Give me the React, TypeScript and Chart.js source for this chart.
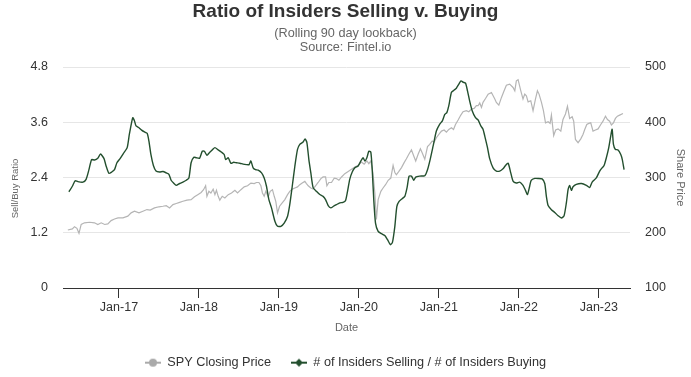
import React, { useEffect, useRef } from "react";
import { Chart, registerables } from "chart.js";

Chart.register(...registerables);

const TITLE = "Ratio of Insiders Selling v. Buying";
const SUBTITLE = ["(Rolling 90 day lookback)", "Source: Fintel.io"];
const RATIO_LABEL = "# of Insiders Selling / # of Insiders Buying";
const SPY_LABEL = "SPY Closing Price";

const xTickYears = [2017, 2018, 2019, 2020, 2021, 2022, 2023];
const leftTickValues = [0, 1.2, 2.4, 3.6, 4.8];
const rightTickValues = [100, 200, 300, 400, 500];

const ratioDates = [
  "2016-05-16","2016-06-01","2016-06-14","2016-06-26","2016-07-19","2016-08-03","2016-08-16","2016-08-28","2016-09-11","2016-09-26",
  "2016-10-08","2016-10-24","2016-11-03","2016-11-16","2016-11-29","2016-12-11","2016-12-22","2017-01-06","2017-01-21","2017-02-08",
  "2017-02-18","2017-03-03","2017-03-11","2017-03-18","2017-04-01","2017-04-13","2017-04-26","2017-05-08","2017-05-16","2017-05-25",
  "2017-06-06","2017-06-18","2017-07-04","2017-07-19","2017-08-04","2017-08-16","2017-08-26","2017-09-07","2017-09-19","2017-10-04",
  "2017-10-19","2017-11-04","2017-11-16","2017-11-26","2017-12-08","2017-12-19","2018-01-04","2018-01-16","2018-01-26","2018-02-07",
  "2018-02-20","2018-03-01","2018-03-13","2018-03-28","2018-04-13","2018-04-25","2018-05-01","2018-05-13","2018-05-25","2018-06-07",
  "2018-06-20","2018-07-05","2018-07-20","2018-08-05","2018-08-17","2018-08-25","2018-09-05","2018-09-16","2018-09-28","2018-10-13",
  "2018-10-25","2018-11-05","2018-11-16","2018-11-28","2018-12-13","2018-12-25","2019-01-10","2019-01-25","2019-02-10","2019-02-20",
  "2019-03-01","2019-03-13","2019-03-25","2019-04-05","2019-04-20","2019-04-29","2019-05-07","2019-05-16","2019-05-25","2019-06-05",
  "2019-06-20","2019-07-05","2019-07-20","2019-08-01","2019-08-13","2019-08-25","2019-09-05","2019-09-20","2019-10-05","2019-10-20",
  "2019-11-01","2019-11-10","2019-11-20","2019-12-01","2019-12-13","2019-12-28","2020-01-10","2020-01-20","2020-01-28","2020-02-07",
  "2020-02-16","2020-02-25","2020-03-01","2020-03-08","2020-03-16","2020-03-28","2020-04-13","2020-04-28","2020-05-10","2020-05-23",
  "2020-06-02","2020-06-13","2020-06-22","2020-07-02","2020-07-16","2020-07-28","2020-08-08","2020-08-17","2020-08-28","2020-09-08",
  "2020-09-17","2020-10-05","2020-10-28","2020-11-10","2020-11-22","2020-12-05","2020-12-20","2021-01-05","2021-01-17","2021-01-28",
  "2021-02-07","2021-02-16","2021-02-28","2021-03-10","2021-03-20","2021-04-01","2021-04-11","2021-04-20","2021-05-01","2021-05-10",
  "2021-05-20","2021-06-01","2021-06-16","2021-06-28","2021-07-10","2021-07-20","2021-07-28","2021-08-10","2021-08-20","2021-09-05",
  "2021-09-20","2021-10-05","2021-10-20","2021-11-01","2021-11-13","2021-11-25","2021-12-05","2021-12-20","2022-01-05","2022-01-20",
  "2022-02-01","2022-02-10","2022-02-20","2022-02-27","2022-03-13","2022-03-28","2022-04-16","2022-04-28","2022-05-05","2022-05-13",
  "2022-05-28","2022-06-13","2022-06-28","2022-07-13","2022-07-25","2022-08-05","2022-08-13","2022-08-20","2022-08-28","2022-09-05",
  "2022-09-20","2022-10-13","2022-11-05","2022-11-20","2022-12-01","2022-12-20","2023-01-05","2023-01-16","2023-01-25","2023-02-05",
  "2023-02-16","2023-02-25","2023-03-01","2023-03-07","2023-03-16","2023-03-28","2023-04-10","2023-04-17","2023-04-25"
];
const ratioValues = [
  2.09,2.21,2.33,2.31,2.30,2.36,2.57,2.79,2.78,2.82,
  2.91,2.81,2.65,2.49,2.52,2.57,2.72,2.81,2.92,3.05,
  3.34,3.70,3.63,3.52,3.48,3.43,3.39,3.36,3.19,2.90,
  2.66,2.54,2.52,2.53,2.50,2.47,2.34,2.28,2.23,2.27,
  2.30,2.34,2.39,2.72,2.84,2.83,2.82,2.97,2.97,2.88,
  2.95,3.00,3.05,3.00,2.95,2.90,2.79,2.83,2.71,2.73,
  2.72,2.71,2.69,2.68,2.68,2.76,2.61,2.57,2.56,2.50,
  2.39,2.21,1.92,1.74,1.45,1.34,1.34,1.41,1.56,1.81,
  2.21,2.65,3.01,3.12,3.17,3.24,3.16,2.79,2.50,2.18,
  2.10,2.03,1.99,1.92,1.79,1.74,1.77,1.81,1.85,1.86,
  1.90,2.10,2.36,2.52,2.61,2.65,2.76,2.83,2.76,2.83,
  2.97,2.95,2.57,1.92,1.41,1.23,1.18,1.14,1.05,0.94,
  0.99,1.34,1.77,1.88,1.94,1.99,2.18,2.43,2.43,2.34,
  2.41,2.43,2.44,2.57,2.79,3.08,3.41,3.56,3.63,3.77,
  3.81,3.96,4.25,4.30,4.34,4.43,4.50,4.47,4.45,4.28,
  4.06,3.85,3.70,3.65,3.52,3.45,3.30,3.05,2.81,2.61,
  2.54,2.54,2.59,2.66,2.71,2.50,2.32,2.28,2.30,2.23,
  2.12,2.03,2.21,2.34,2.38,2.38,2.37,2.27,1.99,1.79,
  1.70,1.64,1.57,1.52,1.57,1.85,2.14,2.23,2.12,2.20,
  2.25,2.27,2.23,2.18,2.30,2.39,2.54,2.61,2.66,2.83,
  3.05,3.30,3.45,3.12,3.01,3.00,2.90,2.79,2.57
];

const spyDates = [
  "2016-05-11","2016-06-01","2016-06-11","2016-06-22","2016-07-01","2016-07-11","2016-07-26","2016-08-19","2016-09-11","2016-09-26",
  "2016-10-11","2016-10-27","2016-11-11","2016-11-26","2016-12-11","2016-12-27","2017-01-19","2017-02-11","2017-02-26","2017-03-11",
  "2017-04-01","2017-04-19","2017-05-07","2017-05-22","2017-06-11","2017-07-01","2017-07-19","2017-08-04","2017-08-19","2017-09-04",
  "2017-09-19","2017-10-04","2017-10-19","2017-11-07","2017-11-26","2017-12-11","2017-12-26","2018-01-11","2018-01-22","2018-02-01",
  "2018-02-07","2018-02-16","2018-02-25","2018-03-05","2018-03-13","2018-03-20","2018-03-28","2018-04-05","2018-04-16","2018-04-28",
  "2018-05-13","2018-05-28","2018-06-13","2018-06-25","2018-07-10","2018-07-25","2018-08-10","2018-08-25","2018-09-10","2018-09-20",
  "2018-10-01","2018-10-10","2018-10-17","2018-10-25","2018-11-02","2018-11-13","2018-11-22","2018-12-02","2018-12-10","2018-12-17",
  "2018-12-25","2019-01-04","2019-01-16","2019-01-28","2019-02-10","2019-02-20","2019-03-01","2019-03-13","2019-03-25","2019-04-05",
  "2019-04-16","2019-04-28","2019-05-05","2019-05-13","2019-05-25","2019-06-05","2019-06-16","2019-06-28","2019-07-10","2019-07-20",
  "2019-08-01","2019-08-07","2019-08-16","2019-08-28","2019-09-10","2019-09-20","2019-10-01","2019-10-13","2019-10-28","2019-11-13",
  "2019-11-28","2019-12-13","2019-12-28","2020-01-13","2020-01-25","2020-02-07","2020-02-16","2020-02-25","2020-03-04","2020-03-13",
  "2020-03-20","2020-03-28","2020-04-10","2020-04-20","2020-05-01","2020-05-13","2020-05-25","2020-06-05","2020-06-13","2020-06-20",
  "2020-07-01","2020-07-13","2020-07-25","2020-08-05","2020-08-16","2020-08-28","2020-09-08","2020-09-17","2020-09-28","2020-10-08",
  "2020-10-17","2020-10-28","2020-11-10","2020-11-20","2020-12-01","2020-12-10","2020-12-20","2021-01-01","2021-01-13","2021-01-25",
  "2021-02-05","2021-02-16","2021-02-28","2021-03-07","2021-03-16","2021-03-28","2021-04-10","2021-04-20","2021-05-05","2021-05-16",
  "2021-05-28","2021-06-10","2021-06-20","2021-06-28","2021-07-05","2021-07-13","2021-07-20","2021-08-01","2021-08-13","2021-08-28",
  "2021-09-13","2021-09-20","2021-10-01","2021-10-13","2021-10-25","2021-11-05","2021-11-20","2021-12-05","2021-12-13","2021-12-20",
  "2021-12-28","2022-01-10","2022-01-20","2022-01-28","2022-02-05","2022-02-13","2022-02-25","2022-03-05","2022-03-16","2022-03-25",
  "2022-04-02","2022-04-13","2022-04-22","2022-05-01","2022-05-13","2022-05-22","2022-05-28","2022-06-08","2022-06-17","2022-06-28",
  "2022-07-10","2022-07-20","2022-08-01","2022-08-10","2022-08-20","2022-09-01","2022-09-08","2022-09-16","2022-09-28","2022-10-10",
  "2022-10-20","2022-10-28","2022-11-07","2022-11-16","2022-11-25","2022-12-05","2022-12-16","2022-12-28","2023-01-10","2023-01-20",
  "2023-02-01","2023-02-10","2023-02-20","2023-02-28","2023-03-07","2023-03-16","2023-03-25","2023-04-05","2023-04-20"
];
const spyValues = [
  205,207,211,208,199,215,218,219,218,215,
  218,215,216,222,225,227,227,230,236,239,
  236,239,242,241,245,247,248,249,245,251,
  253,255,257,259,260,265,269,273,278,285,
  266,275,272,279,269,277,266,259,266,263,
  269,272,277,272,278,283,285,290,289,291,
  291,285,272,266,275,265,275,278,266,257,
  236,248,254,260,269,275,279,281,283,287,
  290,293,289,285,281,279,285,291,298,301,
  301,285,291,291,299,298,295,301,307,311,
  315,319,322,328,324,330,325,330,309,272,
  224,260,275,281,287,295,299,322,309,305,
  311,318,327,334,342,350,339,330,342,352,
  344,333,356,360,366,364,372,378,384,386,
  382,387,390,387,396,404,413,419,421,419,
  424,425,430,430,435,427,436,443,451,454,
  442,436,431,445,457,467,469,463,457,475,
  477,457,442,451,448,437,439,421,442,457,
  451,436,421,399,401,398,413,376,386,388,
  384,405,415,429,407,410,402,369,363,370,
  378,387,396,398,399,384,386,388,396,402,
  411,405,402,395,399,407,411,413,416
];

const X_MIN = 2016.3;
const X_MAX = 2023.39;
const FONT = "'Liberation Sans', Arial, Helvetica, sans-serif";

function toYear(d: string): number {
  const [y, m, dd] = d.split("-").map(Number);
  return y + (m - 1) / 12 + (dd - 1) / 365;
}

function makeSymbol(color: string, shape: "circle" | "diamond"): HTMLCanvasElement {
  const c = document.createElement("canvas");
  c.width = 16;
  c.height = 10;
  const g = c.getContext("2d")!;
  g.strokeStyle = color;
  g.lineWidth = 2;
  g.beginPath();
  g.moveTo(0, 5);
  g.lineTo(16, 5);
  g.stroke();
  g.fillStyle = color;
  g.beginPath();
  if (shape === "circle") {
    g.arc(8, 5, 4, 0, Math.PI * 2);
  } else {
    g.moveTo(8, 1);
    g.lineTo(12, 5);
    g.lineTo(8, 9);
    g.lineTo(4, 5);
    g.closePath();
  }
  g.fill();
  return c;
}

const leftTitlePlugin = {
  id: "leftAxisTitle",
  afterDraw(chart: any) {
    const { ctx, chartArea } = chart;
    ctx.save();
    ctx.translate(15, (chartArea.top + chartArea.bottom) / 2 + 11);
    ctx.rotate(-Math.PI / 2);
    ctx.font = `9.5px ${FONT}`;
    ctx.fillStyle = "#666666";
    ctx.textAlign = "center";
    ctx.textBaseline = "middle";
    ctx.fillText("Sell/Buy Ratio", 0, 0);
    ctx.restore();
  },
};

export default function App() {
  const ref = useRef<HTMLCanvasElement | null>(null);

  useEffect(() => {
    document.body.style.margin = "0";
    if (!ref.current) return;
    const green = "#234f2e";
    const gray = "#b5b5b5";
    const symbols = [makeSymbol(green, "diamond"), makeSymbol("#aaaaaa", "circle")];

    const chart = new Chart(ref.current, {
      type: "line",
      data: {
        datasets: [
          {
            label: RATIO_LABEL,
            data: ratioDates.map((d, i) => ({ x: toYear(d), y: ratioValues[i] })),
            yAxisID: "y",
            borderColor: green,
            backgroundColor: green,
            borderWidth: 1.4,
            pointRadius: 0,
            tension: 0.2,
          },
          {
            label: SPY_LABEL,
            data: spyDates.map((d, i) => ({ x: toYear(d), y: spyValues[i] })),
            yAxisID: "y1",
            borderColor: gray,
            backgroundColor: gray,
            borderWidth: 1.2,
            pointRadius: 0,
            tension: 0,
          },
        ],
      },
      options: {
        animation: false,
        responsive: true,
        maintainAspectRatio: false,
        layout: { padding: { top: 0, left: 0, right: 0, bottom: -2 } },
        plugins: {
          title: {
            display: true,
            text: TITLE,
            color: "#333333",
            font: { family: FONT, size: 19, weight: "bold", lineHeight: 1.2 },
            padding: { top: 0.5, bottom: 3.5 },
          },
          subtitle: {
            display: true,
            text: SUBTITLE,
            color: "#666666",
            font: { family: FONT, size: 12.7, lineHeight: 1.06 },
            padding: { top: 0, bottom: 13.3 },
          },
          legend: {
            position: "bottom",
            labels: {
              usePointStyle: true,
              pointStyleWidth: 16,
              padding: 20,
              color: "#333333",
              font: { family: FONT, size: 12.7 },
              generateLabels: (c: any) =>
                [1, 0].map((i) => ({
                  text: c.data.datasets[i].label,
                  pointStyle: symbols[i],
                  fillStyle: c.data.datasets[i].borderColor,
                  strokeStyle: c.data.datasets[i].borderColor,
                  lineWidth: 0,
                  hidden: false,
                  datasetIndex: i,
                  fontColor: "#333333",
                })),
            },
          },
          tooltip: { enabled: false },
        },
        scales: {
          x: {
            type: "linear",
            min: X_MIN,
            max: X_MAX,
            afterBuildTicks: (s: any) => {
              s.ticks = xTickYears.map((v) => ({ value: v }));
            },
            afterFit: (s: any) => {
              s.height = 48.3;
            },
            ticks: {
              callback: (v: any) => "Jan-" + String(v).slice(2),
              color: "#333333",
              font: { family: FONT, size: 12.5 },
              padding: 2,
              maxRotation: 0,
              autoSkip: false,
            },
            grid: {
              drawOnChartArea: false,
              drawTicks: true,
              tickLength: 10,
              tickColor: "#333333",
              color: "#333333",
            },
            border: { display: true, color: "#333333", width: 1 },
            title: {
              display: true,
              text: "Date",
              color: "#666666",
              font: { family: FONT, size: 11 },
              padding: { top: 0, bottom: 1.7 },
            },
          },
          y: {
            position: "left",
            min: 0,
            max: 4.8,
            afterBuildTicks: (s: any) => {
              s.ticks = leftTickValues.map((v) => ({ value: v }));
            },
            afterFit: (s: any) => {
              s.width = 63;
            },
            ticks: {
              callback: (v: any) => String(Number(Number(v).toFixed(1))),
              color: "#333333",
              font: { family: FONT, size: 12.5 },
              padding: 15,
            },
            grid: {
              color: (ctx: any) => (ctx.tick && ctx.tick.value === 0 ? "rgba(0,0,0,0)" : "#e6e6e6"),
              drawTicks: false,
              lineWidth: 1,
            },
            border: { display: false },
          },
          y1: {
            position: "right",
            min: 100,
            max: 500,
            afterBuildTicks: (s: any) => {
              s.ticks = rightTickValues.map((v) => ({ value: v }));
            },
            afterFit: (s: any) => {
              s.width = 61;
            },
            ticks: {
              color: "#333333",
              font: { family: FONT, size: 12.5 },
              padding: 15,
            },
            grid: { drawOnChartArea: false, drawTicks: false },
            border: { display: false },
            title: {
              display: true,
              text: "Share Price",
              color: "#666666",
              font: { family: FONT, size: 11 },
              padding: { top: 4.4, bottom: 0 },
            },
          },
        },
      } as any,
      plugins: [leftTitlePlugin],
    });
    return () => chart.destroy();
  }, []);

  return (
    <div style={{ position: "relative", width: 691, height: 377 }}>
      <canvas ref={ref} />
    </div>
  );
}
